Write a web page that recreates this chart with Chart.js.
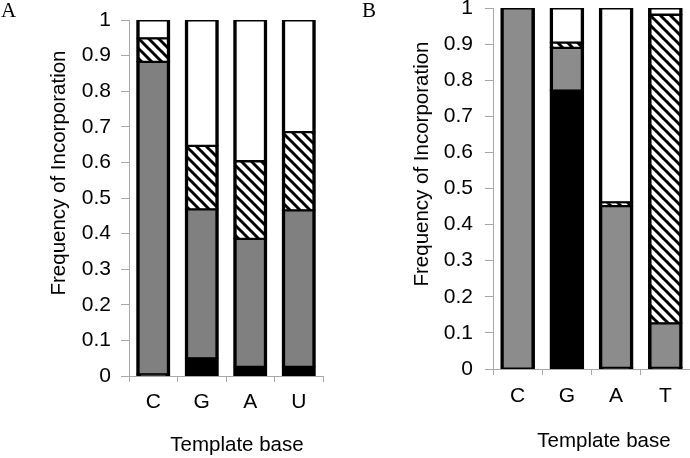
<!DOCTYPE html>
<html>
<head>
<meta charset="utf-8">
<script src="https://cdn.jsdelivr.net/npm/chart.js@4.4.1/dist/chart.umd.min.js"></script>
<style>
    body { margin: 0; background: #fff; }
    .wrap { position: relative; width: 690px; height: 458px; overflow: hidden; }
    .panel { position: absolute; top: 0; }
    .tag { position: absolute; top: 0; font: 21px/21px "Liberation Serif", "Times New Roman", serif; color: #000; }
</style>
</head>
<body>
<div class="wrap">
    <canvas id="chartA" class="panel" style="left:0" width="345" height="458"></canvas>
    <canvas id="chartB" class="panel" style="left:345px" width="345" height="458"></canvas>
    <div class="tag" style="left:1px">A</div>
    <div class="tag" style="left:362px">B</div>
</div>
<script>
// ============================================
// DATA (segment heights, bottom to top)
// ============================================
const basesA = ['C', 'G', 'A', 'U'];
const blackA = [0.005, 0.05, 0.026, 0.026];
const grayA = [0.878, 0.419, 0.36, 0.44];
const hatchA = [0.066, 0.178, 0.218, 0.22];
const whiteA = [0.051, 0.353, 0.396, 0.314];

const basesB = ['C', 'G', 'A', 'T'];
const blackB = [0, 0.772, 0.004, 0.004];
const grayB = [1, 0.118, 0.448, 0.123];
const hatchB = [0, 0.015, 0.01, 0.855];
const whiteB = [0, 0.095, 0.538, 0.018];

const yTicks = [0, 0.1, 0.2, 0.3, 0.4, 0.5, 0.6, 0.7, 0.8, 0.9, 1];

const FONT = 'Liberation Sans, Arial, sans-serif';
const AXIS = '#a8a8a8';

// ============================================
// HATCH PATTERN
// ============================================
function makeHatch() {
    const size = 10;
    const c = document.createElement('canvas');
    c.width = size;
    c.height = size;
    const g = c.getContext('2d');
    g.fillStyle = '#fff';
    g.fillRect(0, 0, size, size);
    g.strokeStyle = '#000';
    g.lineWidth = 3;
    [-size, 0, size].forEach(o => {
        g.beginPath();
        g.moveTo(o - 1, -1);
        g.lineTo(o + size + 1, size + 1);
        g.stroke();
    });
    return g.createPattern(c, 'repeat');
}
const hatch = makeHatch();

// ============================================
// AXIS TITLES PLUGIN
// ============================================
const axisTitles = {
    id: 'axisTitles',
    afterDraw(chart, args, o) {
        const ctx = chart.ctx;
        ctx.save();
        ctx.fillStyle = '#000';
        ctx.font = '20.5px ' + FONT;
        ctx.textAlign = 'center';
        ctx.textBaseline = 'middle';
        ctx.fillText(o.xText, o.xx, o.xy);
        ctx.translate(o.yx, o.yy);
        ctx.rotate(-Math.PI / 2);
        ctx.fillText(o.yText, 0, 0);
        ctx.restore();
    }
};

// ============================================
// CHART
// ============================================
function makeChart(id, labels, black, gray, hatchVals, white, grayColor, cfg) {
    const seg = (data, bg) => ({
        data: data,
        backgroundColor: bg,
        borderColor: '#000',
        borderWidth: { top: 2, bottom: 1.5, left: 3.5, right: 3.5 },
        borderSkipped: false,
        inflateAmount: 0.6,
        barPercentage: 0.68,
        categoryPercentage: 1,
    });

    return new Chart(document.getElementById(id), {
        type: 'bar',
        data: {
            labels: labels,
            datasets: [
                seg(black, '#000'),
                seg(gray, grayColor),
                seg(hatchVals, hatch),
                seg(white, '#fff'),
            ]
        },
        plugins: [axisTitles],
        options: {
            responsive: false,
            animation: false,
            layout: { padding: cfg.padding },
            plugins: {
                legend: { display: false },
                tooltip: { enabled: false },
                axisTitles: cfg.titles,
            },
            scales: {
                x: {
                    stacked: true,
                    grid: { drawOnChartArea: false, drawTicks: true, tickLength: 6, color: AXIS, offset: true },
                    border: { color: AXIS, width: 1 },
                    ticks: { color: '#000', font: { family: FONT, size: 21 }, padding: cfg.xPad, maxRotation: 0 },
                    afterFit: s => {
                        s.height = cfg.xHeight;
                        s.paddingLeft = 0;
                        s.paddingRight = 0;
                    }
                },
                y: {
                    stacked: true,
                    min: 0,
                    max: 1,
                    grid: { drawOnChartArea: false, drawTicks: true, tickLength: 8, color: AXIS },
                    border: { color: AXIS, width: 1 },
                    afterBuildTicks: s => { s.ticks = yTicks.map(v => ({ value: v })); },
                    ticks: {
                        color: '#000',
                        font: { family: FONT, size: 21 },
                        padding: cfg.yPad,
                        callback: v => String(+v.toFixed(1)),
                    },
                    afterFit: s => {
                        s.width = cfg.yWidth;
                        s.paddingTop = 0;
                        s.paddingBottom = 0;
                    }
                }
            }
        }
    });
}

makeChart('chartA', basesA, blackA, grayA, hatchA, whiteA, '#808080', {
    padding: { top: 20, right: 22, left: 0, bottom: 0 },
    xHeight: 82, xPad: 8, yWidth: 129, yPad: 10,
    titles: { xText: 'Template base', xx: 237, xy: 445, yText: 'Frequency of Incorporation', yx: 59, yy: 173 },
});

makeChart('chartB', basesB, blackB, grayB, hatchB, whiteB, '#8c8c8c', {
    padding: { top: 8, right: 0, left: 0, bottom: 0 },
    xHeight: 89, xPad: 9, yWidth: 148, yPad: 12,
    titles: { xText: 'Template base', xx: 259, xy: 441, yText: 'Frequency of Incorporation', yx: 77, yy: 164 },
});
</script>
</body>
</html>
